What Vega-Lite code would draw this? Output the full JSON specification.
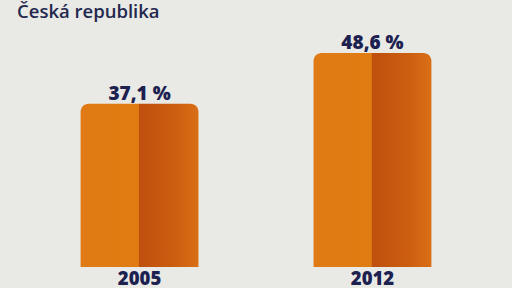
{
  "$schema": "https://vega.github.io/schema/vega-lite/v6.json",
  "width": 512,
  "height": 288,
  "padding": 0,
  "autosize": {"type": "none"},
  "background": "#e9e9e5",
  "config": {"view": {"stroke": null}},
  "title": {
    "text": "Česká republika",
    "anchor": "start",
    "frame": "group",
    "orient": "top",
    "dx": 17,
    "dy": 40,
    "font": "Open Sans",
    "fontSize": 18.5,
    "fontWeight": 600,
    "color": "#23284f",
    "baseline": "alphabetic"
  },
  "data": {
    "values": [
      {"year": "2005", "value": 37.1, "label": "37,1 %"},
      {"year": "2012", "value": 48.6, "label": "48,6 %"}
    ]
  },
  "encoding": {
    "x": {
      "field": "year",
      "type": "nominal",
      "axis": null,
      "scale": {"paddingInner": 0.494, "paddingOuter": 0.346}
    }
  },
  "layer": [
    {
      "mark": {
        "type": "bar",
        "cornerRadiusTopLeft": 8,
        "cornerRadiusTopRight": 8,
        "color": {
          "gradient": "linear",
          "x1": 0, "x2": 1, "y1": 0, "y2": 0,
          "stops": [
            {"offset": 0, "color": "#e07a14"},
            {"offset": 0.49, "color": "#e07c12"},
            {"offset": 0.5, "color": "#bf4f0e"},
            {"offset": 0.8, "color": "#cc5e10"},
            {"offset": 1, "color": "#d96f16"}
          ]
        }
      },
      "encoding": {
        "y": {
          "field": "value",
          "type": "quantitative",
          "axis": null,
          "scale": {"domain": [-4.77, 60.64], "nice": false, "zero": false}
        },
        "y2": {"datum": 0}
      }
    },
    {
      "mark": {
        "type": "text",
        "baseline": "alphabetic",
        "dy": -4,
        "font": "Open Sans",
        "fontSize": 19,
        "fontWeight": 800,
        "color": "#1c2150"
      },
      "encoding": {
        "y": {"field": "value", "type": "quantitative"},
        "text": {"field": "label"}
      }
    },
    {
      "mark": {
        "type": "text",
        "baseline": "alphabetic",
        "dy": 18,
        "font": "Open Sans",
        "fontSize": 18.5,
        "fontWeight": 800,
        "color": "#1c2150"
      },
      "encoding": {
        "y": {"datum": 0},
        "text": {"field": "year"}
      }
    }
  ]
}
